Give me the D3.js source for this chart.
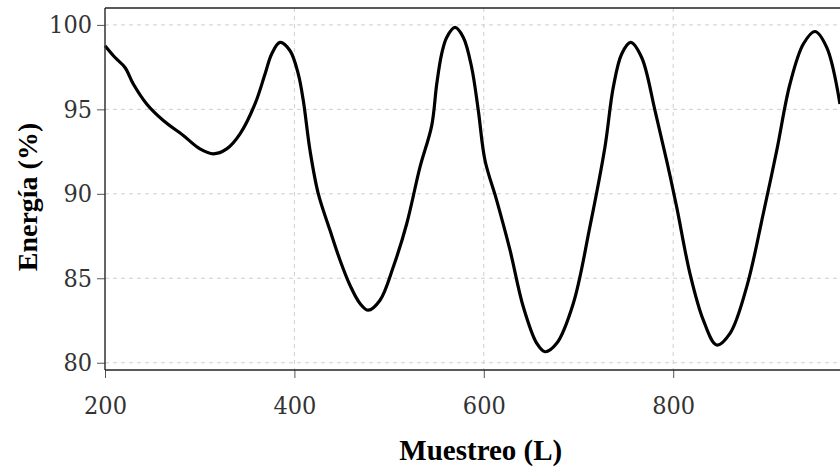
<!DOCTYPE html>
<html>
<head>
<meta charset="utf-8">
<script src="https://cdn.jsdelivr.net/npm/d3@7"></script>
<style>
  html, body { margin: 0; padding: 0; background: #fff; }
  svg { display: block; }
  .tick text { font-family: "DejaVu Serif Condensed", "DejaVu Serif"; font-stretch: condensed; }
</style>
</head>
<body>
<svg id="chart" width="840" height="468"></svg>
<script>
const muestreo = [200, 210.6, 221.1, 229.9, 244.0, 261.6, 282.7, 300.3, 314.4, 328.5, 342.6, 358.4, 369.0, 376.0, 384.8, 395.4, 404.1, 409.4, 416.5, 425.2, 437.6, 448.2, 458.7, 469.3, 478.0, 490.4, 504.4, 518.6, 532.6, 545.0, 550.3, 555.5, 560.8, 569.6, 578.4, 587.2, 594.2, 601.3, 613.6, 627.7, 641.7, 655.9, 664.6, 677.0, 694.5, 712.1, 727.9, 736.7, 745.6, 755.1, 766.7, 780.8, 793.1, 803.7, 817.7, 831.8, 845.9, 860.0, 877.6, 895.1, 909.3, 923.3, 937.4, 949.7, 962.1, 976.1];
const energia = [98.77, 98.07, 97.48, 96.50, 95.32, 94.34, 93.45, 92.66, 92.37, 92.66, 93.55, 95.32, 97.09, 98.28, 98.96, 98.47, 97.09, 95.52, 92.56, 90.01, 87.84, 86.07, 84.59, 83.51, 83.11, 83.70, 85.67, 88.23, 91.58, 94.04, 96.50, 98.28, 99.26, 99.85, 99.26, 97.48, 94.93, 91.97, 89.61, 86.66, 83.31, 81.15, 80.65, 81.15, 83.51, 88.07, 92.76, 96.30, 98.28, 98.96, 98.07, 94.93, 91.97, 89.21, 85.28, 82.52, 81.05, 81.74, 84.49, 88.82, 92.56, 96.50, 98.87, 99.61, 98.67, 95.32];
const xTicks = [200, 400, 600, 800];
const yTicks = [80, 85, 90, 95, 100];
const xLabel = "Muestreo (L)";
const yLabel = "Energía (%)";

const svg = d3.select("#chart");
const mLeft = 105, mTop = 8, mBottom = 370;
const x = d3.scaleLinear().domain([200, 1000]).range([mLeft, mLeft + 800 * 0.947]);
const y = d3.scaleLinear().domain([79.57, 101.0]).range([mBottom, mTop]);

const data = muestreo.map((m, i) => ({m, e: energia[i]}));

// grid
const grid = svg.append("g");
grid.selectAll("line.gx").data(xTicks.slice(1)).join("line")
  .attr("x1", d => x(d)).attr("x2", d => x(d))
  .attr("y1", mTop).attr("y2", mBottom)
  .attr("stroke", "#cfcfcf").attr("stroke-width", 1).attr("stroke-dasharray", "4,4");
grid.selectAll("line.gy").data(yTicks).join("line")
  .attr("x1", mLeft).attr("x2", 840)
  .attr("y1", d => y(d)).attr("y2", d => y(d))
  .attr("stroke", "#cfcfcf").attr("stroke-width", 1).attr("stroke-dasharray", "4,4");

// line
svg.append("path").datum(data)
  .attr("fill", "none").attr("stroke", "#000").attr("stroke-width", 3.2)
  .attr("stroke-linejoin", "round")
  .attr("d", d3.line().x(d => x(d.m)).y(d => y(d.e)).curve(d3.curveCatmullRom));

// axes
const xAxis = svg.append("g").attr("transform", `translate(0,${mBottom})`)
  .call(d3.axisBottom(x).tickValues(xTicks).tickSize(8).tickPadding(18).tickSizeOuter(0));
const yAxis = svg.append("g").attr("transform", `translate(${mLeft},0)`)
  .call(d3.axisLeft(y).tickValues(yTicks).tickSize(8).tickPadding(5).tickSizeOuter(0));
[xAxis, yAxis].forEach(a => {
  a.select(".domain").remove();
  a.attr("font-family", null);
  a.selectAll(".tick line").attr("stroke", "#555").attr("stroke-width", 1);
  a.selectAll(".tick text").attr("font-size", 25).attr("fill", "#333");
});

// spines
svg.append("line").attr("x1", mLeft).attr("x2", mLeft).attr("y1", mTop).attr("y2", mBottom)
  .attr("stroke", "#333").attr("stroke-width", 1.5);
svg.append("line").attr("x1", mLeft).attr("x2", 840).attr("y1", mBottom).attr("y2", mBottom)
  .attr("stroke", "#222").attr("stroke-width", 1.5);
svg.append("line").attr("x1", mLeft).attr("x2", 840).attr("y1", mTop).attr("y2", mTop)
  .attr("stroke", "#222").attr("stroke-width", 1.5);

// labels
svg.append("text").attr("x", (x.range()[0] + x.range()[1]) / 2 - 3).attr("y", 460)
  .attr("text-anchor", "middle").attr("font-family", "Liberation Serif").attr("font-weight", "bold")
  .attr("font-size", 29).attr("fill", "#000").text(xLabel);
svg.append("text").attr("transform", `translate(37,${(mTop + mBottom) / 2 + 8}) rotate(-90)`)
  .attr("text-anchor", "middle").attr("font-family", "Liberation Serif").attr("font-weight", "bold")
  .attr("font-size", 28).attr("fill", "#000").text(yLabel);
</script>
</body>
</html>
